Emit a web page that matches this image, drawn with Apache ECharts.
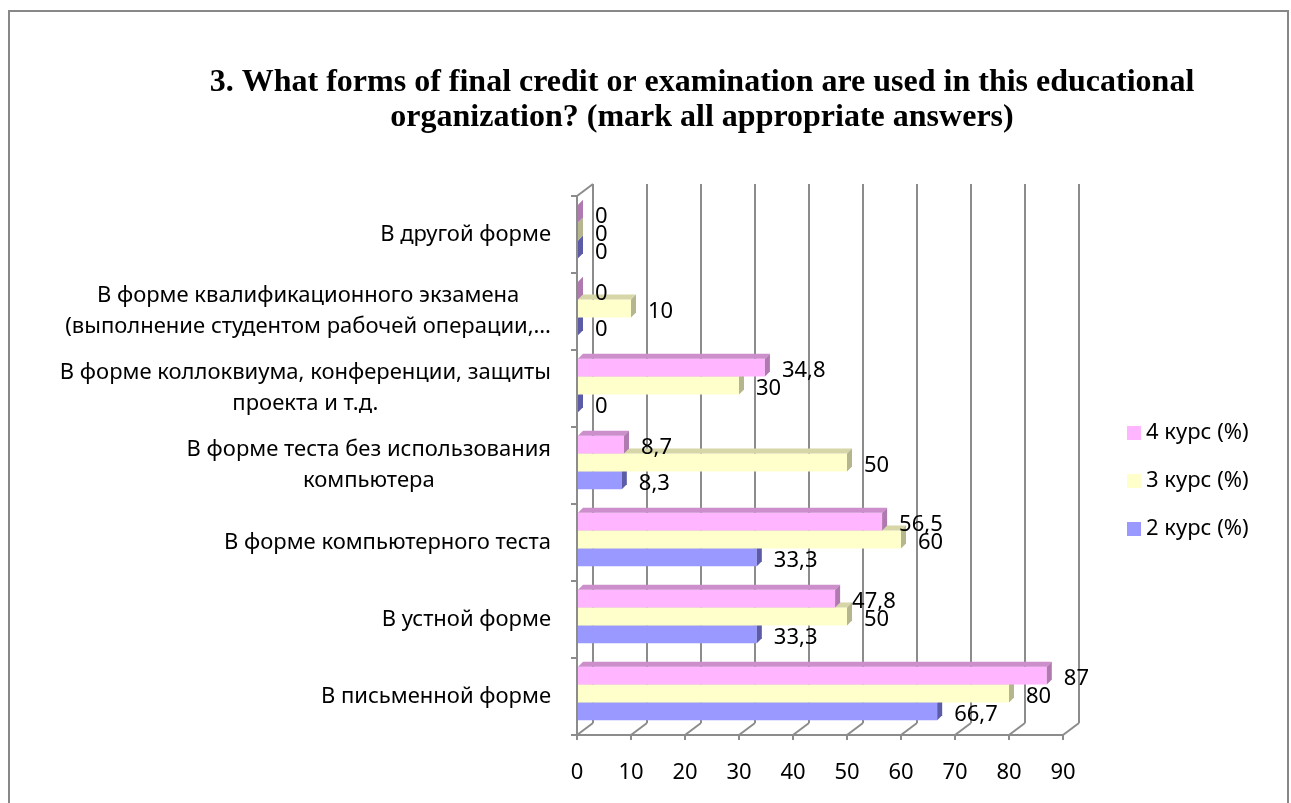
<!DOCTYPE html>
<html lang="ru">
<head>
    <meta charset="UTF-8">
    <title>Forms of final credit</title>
    <script src="https://cdn.jsdelivr.net/npm/echarts@6.0.0/dist/echarts.min.js"></script>
    <style>
        html, body { margin:0; padding:0; background:#fff; }
    </style>
</head>
<body>

    <div id="main" style="width:1291px; height:803px;"></div>

    <script>
        // категории снизу вверх
        var categories = [
            "В письменной форме",
            "В устной форме",
            "В форме компьютерного теста",
            "В форме теста без использования\nкомпьютера",
            "В форме коллоквиума, конференции, защиты\nпроекта и т.д.",
            "В форме квалификационного экзамена\n(выполнение студентом рабочей операции,…",
            "В другой форме"
        ];
        var kurs2 = [66.7, 33.3, 33.3, 8.3, 0, 0, 0];
        var kurs3 = [80, 50, 60, 50, 30, 10, 0];
        var kurs4 = [87, 47.8, 56.5, 8.7, 34.8, 0, 0];
        var xTicks = [0, 10, 20, 30, 40, 50, 60, 70, 80, 90];
        var seriesNames = ["2 курс (%)", "3 курс (%)", "4 курс (%)"];

        var palette = [
            {front: '#9999FF', top: '#7777CC', side: '#5B5BA8'},
            {front: '#FFFFCC', top: '#D6D6A8', side: '#B5B58E'},
            {front: '#FFB5FF', top: '#CC8FCC', side: '#B07AB0'}
        ];

        var DX = 5, DY = 5;           // глубина столбца
        var WX = 16, WY = 12;         // глубина стенки
        var FS = 22;                  // размер шрифта подписей

        function barRender(idx) {
            var c = palette[idx];
            return function (params, api) {
                var cat = api.value(0), val = api.value(1);
                var base = api.coord([0, cat]);
                var end = api.coord([val, cat]);
                var band = api.size([0, 1])[1];
                var h = band * 0.232;
                var yc = base[1] - 3 + (1 - idx) * h;
                var y0 = yc - h / 2, y1 = yc + h / 2;
                var x0 = base[0] + 1, x1 = Math.max(end[0], x0);
                return {
                    type: 'group',
                    children: [
                        {type: 'rect', shape: {x: x0, y: y0, width: x1 - x0, height: h},
                         style: {fill: c.front}},
                        {type: 'polygon', shape: {points: [[x0, y0], [x1, y0], [x1 + DX, y0 - DY], [x0 + DX, y0 - DY]]},
                         style: {fill: c.top}},
                        {type: 'polygon', shape: {points: [[x1, y0], [x1 + DX, y0 - DY], [x1 + DX, y1 - DY], [x1, y1]]},
                         style: {fill: c.side}},
                        {type: 'text', x: x1 + DX + 12, y: yc + 3,
                         style: {text: String(val).replace('.', ','), fill: '#000',
                                 font: FS + 'px "Noto Sans"', textAlign: 'left', textVerticalAlign: 'middle'}}
                    ]
                };
            };
        }

        function frameRender(params, api) {
            var v = api.value(0);
            var band = api.size([0, 1])[1];
            var x = api.coord([v, 0])[0];
            var bottom = api.coord([v, 0])[1] + band / 2;
            var top = api.coord([v, categories.length - 1])[1] - band / 2;
            var ls = {stroke: '#8C8C8C', lineWidth: 2};
            var kids = [
                {type: 'line', shape: {x1: x + WX, y1: top - WY, x2: x + WX, y2: bottom - WY}, style: ls},
                {type: 'line', shape: {x1: x + WX, y1: bottom - WY, x2: x, y2: bottom}, style: ls}
            ];
            if (v === 0) {
                kids.push({type: 'line', shape: {x1: x, y1: top, x2: x + WX, y2: top - WY}, style: ls});
            }
            return {type: 'group', children: kids};
        }

        var lists = [kurs2, kurs3, kurs4];
        var series = [{
            type: 'custom',
            name: 'frame',
            renderItem: frameRender,
            encode: {x: 0},
            data: xTicks.map(function (t) { return [t]; }),
            z: 1,
            silent: true
        }];
        lists.forEach(function (arr, i) {
            series.push({
                type: 'custom',
                name: seriesNames[i],
                renderItem: barRender(i),
                encode: {x: 1, y: 0},
                itemStyle: {color: palette[i].front},
                data: arr.map(function (v, k) { return [k, v]; }),
                z: 2 + i
            });
        });

        var charts = echarts.init(document.getElementById("main"));

        var options = {
            animation: false,
            title: {
                text: "3. What forms of final credit or examination are used in this educational\norganization? (mark all appropriate answers)",
                left: 697,
                top: 60,
                textAlign: 'center',
                textStyle: {
                    fontFamily: '"Liberation Serif", serif',
                    fontWeight: 'bold',
                    fontSize: 32,
                    lineHeight: 35,
                    color: '#000'
                }
            },
            legend: {
                orient: 'vertical',
                left: 1122,
                top: 417,
                itemWidth: 14,
                itemHeight: 14,
                itemGap: 26,
                icon: 'rect',
                data: ["4 курс (%)", "3 курс (%)", "2 курс (%)"],
                textStyle: {fontFamily: '"Noto Sans"', fontSize: FS, color: '#000'}
            },
            grid: {
                left: 577,
                right: 228,
                top: 196,
                bottom: 68
            },
            xAxis: {
                type: 'value',
                min: 0,
                max: 90,
                interval: 10,
                splitLine: {show: false},
                axisLine: {show: true, lineStyle: {color: '#8C8C8C', width: 2}},
                axisTick: {show: true, length: 5, lineStyle: {color: '#8C8C8C', width: 2}},
                axisLabel: {
                    margin: 27,
                    fontFamily: '"Noto Sans"',
                    fontSize: FS,
                    color: '#000'
                }
            },
            yAxis: {
                type: 'category',
                data: categories,
                axisLine: {show: true, lineStyle: {color: '#8C8C8C', width: 2}},
                axisTick: {show: true, length: 6, lineStyle: {color: '#8C8C8C', width: 2}},
                axisLabel: {
                    margin: 26,
                    color: '#000',
                    fontFamily: '"Noto Sans"',
                    fontSize: FS,
                    lineHeight: 31,
                    formatter: function (val) {
                        return val.split('\n').map(function (s) { return '{c|' + s + '}'; }).join('\n');
                    },
                    rich: {
                        c: {align: 'center', fontFamily: '"Noto Sans"', fontSize: FS, lineHeight: 31, color: '#000'}
                    }
                }
            },
            graphic: [{
                type: 'rect',
                shape: {x: 9, y: 11, width: 1279, height: 800},
                style: {fill: 'none', stroke: '#888888', lineWidth: 2},
                silent: true
            }],
            series: series
        };

        charts.setOption(options);
    </script>
</body>
</html>
